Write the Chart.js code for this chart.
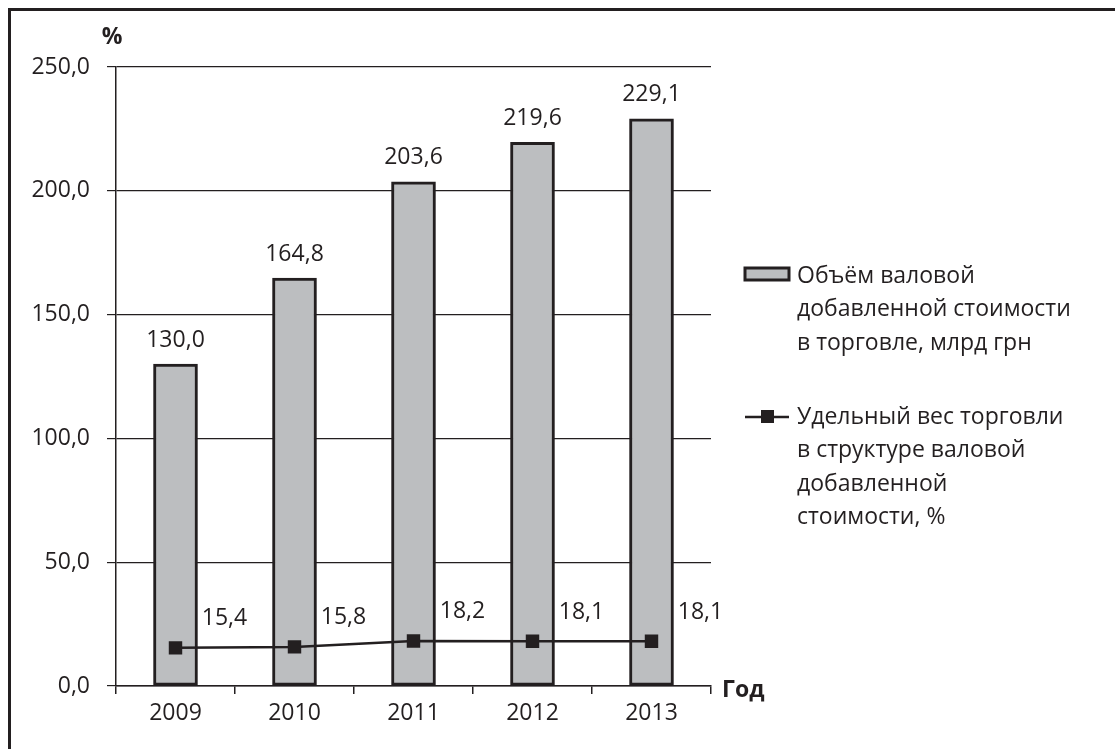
<!DOCTYPE html>
<html lang="ru">
<head>
    <meta charset="UTF-8">
    <title>Объём валовой добавленной стоимости в торговле</title>
    <style>
        html, body { margin: 0; padding: 0; background: #fff; overflow: hidden; }
        .frame {
            position: absolute; left: 8px; top: 8px;
            width: 1300px; height: 900px;
            border: 3px solid #231f20;
        }
        .containerCanva {
            position: absolute; left: 0; top: 0;
            width: 1115px; height: 749px;
        }
    </style>
</head>
<body>
    <div class="frame"></div>
    <div class="containerCanva">
        <canvas id="myChart"></canvas>
    </div>
    <script src="https://cdn.jsdelivr.net/npm/chart.js@4.4.0/dist/chart.umd.min.js"></script>
    <script>
        // dados
        const anos = ['2009', '2010', '2011', '2012', '2013'];
        const volume = [130.0, 164.8, 203.6, 219.6, 229.1];
        const peso = [15.4, 15.8, 18.2, 18.1, 18.1];
        const yMin = 0, yMax = 250, yStep = 50;
        const legendaVolume = ['Объём валовой', 'добавленной стоимости', 'в торговле, млрд грн'];
        const legendaPeso = ['Удельный вес торговли', 'в структуре валовой', 'добавленной', 'стоимости, %'];
        const yTitulo = '%';
        const xTitulo = 'Год';

        const cor = '#231f20';
        const fonte = '"Open Sans", sans-serif';
        const fmt = v => v.toFixed(1).replace('.', ',');

        const extras = {
            id: 'extras',
            afterDatasetsDraw(chart) {
                const ctx = chart.ctx;
                const area = chart.chartArea;
                ctx.save();
                ctx.fillStyle = cor;
                ctx.textAlign = 'center';
                ctx.textBaseline = 'middle';
                ctx.font = '23px ' + fonte;

                // rotulos das barras
                chart.getDatasetMeta(0).data.forEach((bar, i) => {
                    ctx.fillText(fmt(volume[i]), bar.x, bar.y - 24);
                });
                // rotulos da linha
                chart.getDatasetMeta(1).data.forEach((pt, i) => {
                    ctx.fillText(fmt(peso[i]), pt.x + 49, pt.y - 29);
                });

                // titulos dos eixos
                ctx.font = 'bold 23px ' + fonte;
                ctx.fillText(yTitulo, area.left - 4, area.top - 30);
                ctx.textAlign = 'left';
                ctx.fillText(xTitulo, area.right + 11, area.bottom + 4);

                // legenda
                const ds0 = chart.data.datasets[0];
                const ds1 = chart.data.datasets[1];
                const lx = 745, tx = 797, lh = 33.5;
                ctx.font = '23px ' + fonte;
                ctx.fillStyle = ds0.backgroundColor;
                ctx.fillRect(lx, 268, 44, 12);
                ctx.strokeStyle = ds0.borderColor;
                ctx.lineWidth = 3;
                ctx.strokeRect(lx, 268, 44, 12);
                ctx.fillStyle = cor;
                legendaVolume.forEach((t, i) => ctx.fillText(t, tx, 276 + i * lh));

                ctx.strokeStyle = ds1.borderColor;
                ctx.lineWidth = 2.5;
                ctx.beginPath();
                ctx.moveTo(lx, 417);
                ctx.lineTo(lx + 44, 417);
                ctx.stroke();
                ctx.fillStyle = ds1.pointBackgroundColor;
                ctx.fillRect(lx + 16, 410, 13, 13);
                ctx.fillStyle = cor;
                legendaPeso.forEach((t, i) => ctx.fillText(t, tx, 417 + i * lh));
                ctx.restore();
            }
        };

        const ctx = document.getElementById('myChart').getContext('2d');
        const myChart = new Chart(ctx, {
            type: 'bar',
            data: {
                labels: anos,
                datasets: [{
                    type: 'bar',
                    label: legendaVolume.join(' '),
                    data: volume,
                    backgroundColor: '#bcbec0',
                    borderColor: cor,
                    borderWidth: 3,
                    borderSkipped: false,
                    barThickness: 44,
                    order: 1
                }, {
                    type: 'line',
                    label: legendaPeso.join(' '),
                    data: peso,
                    borderColor: cor,
                    borderWidth: 2.5,
                    tension: 0,
                    pointStyle: 'rect',
                    pointRadius: 9.5,
                    pointBackgroundColor: cor,
                    pointBorderColor: cor,
                    pointBorderWidth: 0,
                    order: 0
                }]
            },
            options: {
                responsive: true,
                maintainAspectRatio: false,
                animation: false,
                layout: { padding: { left: 0, top: 67, right: 404, bottom: 0 } },
                plugins: {
                    legend: { display: false },
                    tooltip: { enabled: false }
                },
                scales: {
                    x: {
                        offset: true,
                        grid: {
                            offset: true,
                            drawOnChartArea: false,
                            color: cor,
                            lineWidth: 1.5,
                            tickLength: 8
                        },
                        border: { display: true, color: cor, width: 1.5 },
                        ticks: {
                            color: cor,
                            font: { family: fonte, size: 23 },
                            padding: 6
                        },
                        afterFit(scale) { scale.height = 63; }
                    },
                    y: {
                        min: yMin,
                        max: yMax,
                        ticks: {
                            stepSize: yStep,
                            color: cor,
                            font: { family: fonte, size: 23 },
                            padding: 17,
                            callback: v => fmt(v)
                        },
                        grid: {
                            color: cor,
                            lineWidth: 1.2,
                            tickLength: 9
                        },
                        border: { display: true, color: cor, width: 1.5 },
                        afterFit(scale) { scale.width = 116; }
                    }
                }
            },
            plugins: [extras]
        });
    </script>
</body>
</html>
